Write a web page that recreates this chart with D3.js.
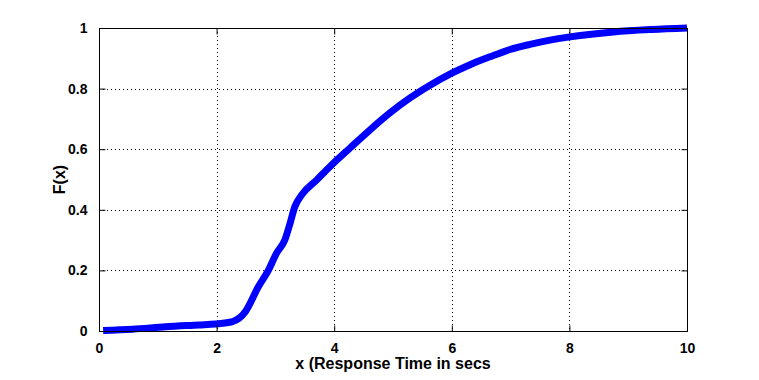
<!DOCTYPE html>
<html>
  <head>
    <script src="https://d3js.org/d3.v7.min.js"></script>
    <style>
      body { margin: 0; background: #fff; }
      text { font-family: "Liberation Sans", Arial, sans-serif; fill: #000; }
      .grid line { stroke: #000; stroke-width: 1; stroke-dasharray: 1,3; }
    </style>
  </head>
  <body>
    <svg id="chart" width="759" height="380"></svg>
    <script>
      // Values
      var xValues = [0.07, 0.57, 1.13, 1.70, 1.98, 2.27, 2.49, 2.71, 2.88, 3.02, 3.16, 3.25, 3.33, 3.45, 3.70, 3.93, 4.27, 4.61, 4.95, 5.29, 5.63, 6.0, 6.31, 6.65, 6.99, 7.33, 7.67, 7.98, 8.75, 9.4, 10];
      var yValues = [0.002, 0.006, 0.014, 0.02, 0.023, 0.031, 0.064, 0.146, 0.2, 0.257, 0.30, 0.356, 0.41, 0.45, 0.498, 0.543, 0.604, 0.664, 0.72, 0.769, 0.811, 0.851, 0.879, 0.905, 0.929, 0.946, 0.96, 0.970, 0.987, 0.995, 1.0];
      var xTicks = [0, 2, 4, 6, 8, 10];
      var yTicks = [0, 0.2, 0.4, 0.6, 0.8, 1];

      // plot box edges (note: "top" is a reserved window property, so use other names)
      var boxL = 99, boxR = 687, boxT = 28, boxB = 331;
      var svg = d3.select("#chart");

      var x = d3.scaleLinear().domain([0, 10]).range([boxL, boxR]);
      var y = d3.scaleLinear().domain([0, 1]).range([boxB, boxT]);

      // Dotted grid
      var grid = svg.append("g").attr("class", "grid");
      grid.selectAll(".gx").data(xTicks.slice(1, -1)).enter().append("line")
        .attr("x1", d => Math.round(x(d)) + 0.5).attr("x2", d => Math.round(x(d)) + 0.5)
        .attr("y1", boxT).attr("y2", boxB);
      grid.selectAll(".gy").data(yTicks.slice(1, -1)).enter().append("line")
        .attr("y1", d => Math.round(y(d)) + 0.5).attr("y2", d => Math.round(y(d)) + 0.5)
        .attr("x1", boxL).attr("x2", boxR);

      // Curve
      var pts = xValues.map((d, i) => [d, yValues[i]]);
      svg.append("path")
        .datum(pts)
        .attr("fill", "none")
        .attr("stroke", "#0000ff")
        .attr("stroke-width", 7)
        .attr("stroke-linejoin", "round")
        .attr("d", d3.line().x(d => x(d[0])).y(d => y(d[1])).curve(d3.curveMonotoneX));

      // Axes with inward ticks (MATLAB style), on all four sides
      var fmt = d3.format("~g");
      svg.append("g").attr("transform", "translate(0," + (boxB + 0.5) + ")")
        .call(d3.axisBottom(x).tickValues(xTicks).tickSize(-6).tickPadding(12).tickFormat(fmt))
        .call(g => g.select(".domain").remove());
      svg.append("g").attr("transform", "translate(0," + (boxT + 0.5) + ")")
        .call(d3.axisTop(x).tickValues(xTicks).tickSize(-6).tickFormat(""))
        .call(g => g.select(".domain").remove());
      svg.append("g").attr("transform", "translate(" + (boxL + 0.5) + ",0)")
        .call(d3.axisLeft(y).tickValues(yTicks).tickSize(-6).tickPadding(12).tickFormat(fmt))
        .call(g => g.select(".domain").remove());
      svg.append("g").attr("transform", "translate(" + (boxR + 0.5) + ",0)")
        .call(d3.axisRight(y).tickValues(yTicks).tickSize(-6).tickFormat(""))
        .call(g => g.select(".domain").remove());

      svg.selectAll(".tick text")
        .style("font-family", "'Liberation Sans', Arial, sans-serif")
        .style("font-size", "14px")
        .style("font-weight", "bold");
      svg.selectAll(".tick line").attr("stroke", "#000");

      // Frame
      svg.append("rect")
        .attr("x", boxL + 0.5).attr("y", boxT + 0.5)
        .attr("width", boxR - boxL).attr("height", boxB - boxT)
        .attr("fill", "none").attr("stroke", "#000").attr("stroke-width", 1);

      // Labels
      svg.append("text")
        .attr("x", (boxL + boxR) / 2).attr("y", 369)
        .attr("text-anchor", "middle")
        .style("font-size", "16px")
        .style("font-weight", "bold")
        .text("x (Response Time in secs");
      svg.append("text")
        .attr("transform", "translate(65," + ((boxT + boxB) / 2) + ") rotate(-90)")
        .attr("text-anchor", "middle")
        .style("font-size", "16px")
        .style("font-weight", "bold")
        .text("F(x)");
    </script>
  </body>
</html>
